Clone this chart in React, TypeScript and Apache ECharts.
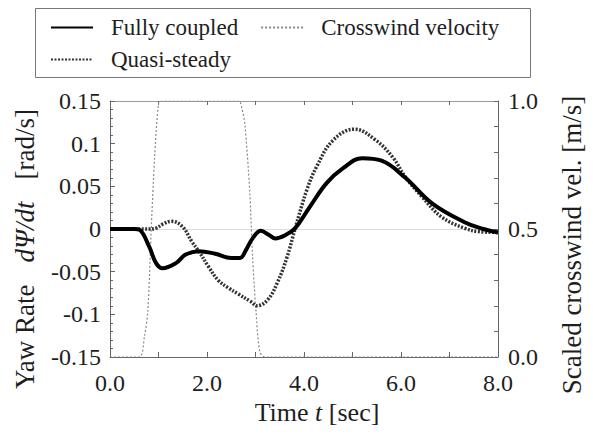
import React, { useEffect, useRef } from 'react';
import * as echarts from 'echarts';

// Time [sec] and yaw rate [rad/s] for the fully coupled simulation
const fullyT = [0, 0.5, 0.61, 0.81, 0.95, 1.08, 1.36, 1.56, 1.83, 2.17, 2.5, 2.68, 2.8, 2.94, 3.11, 3.28, 3.41, 3.62, 3.82, 4.12, 4.47, 4.8, 5.2, 5.6, 6.09, 6.64, 7.31, 7.7, 8.0];
const fullyV = [0, 0, -0.001, -0.021, -0.04, -0.046, -0.04, -0.03, -0.026, -0.029, -0.034, -0.034, -0.025, -0.011, -0.002, -0.007, -0.011, -0.007, 0.001, 0.026, 0.054, 0.071, 0.083, 0.08, 0.06, 0.03, 0.008, 0.0, -0.004];

// Quasi-steady model
const quasiT = [0, 0.8, 0.95, 1.1, 1.26, 1.49, 1.69, 1.83, 2.03, 2.23, 2.44, 2.64, 2.9, 3.03, 3.25, 3.45, 3.65, 3.82, 4.06, 4.26, 4.6, 5.04, 5.48, 5.83, 6.09, 6.43, 6.84, 7.31, 7.6, 8.0];
const quasiV = [0, 0, 0.001, 0.006, 0.009, 0.003, -0.015, -0.026, -0.044, -0.06, -0.069, -0.076, -0.085, -0.09, -0.083, -0.063, -0.033, 0.001, 0.046, 0.073, 0.104, 0.117, 0.104, 0.084, 0.061, 0.038, 0.014, 0.001, -0.003, -0.004];

// Scaled crosswind velocity [m/s] (right axis)
const windT = [0, 0.6, 0.71, 0.78, 0.85, 0.92, 1.0, 1.05, 2.65, 2.72, 2.78, 2.88, 2.94, 3.01, 3.09, 3.2, 8.0];
const windV = [0, 0, 0.08, 0.18, 0.5, 0.78, 0.99, 1.0, 1.0, 0.97, 0.91, 0.65, 0.39, 0.18, 0.02, 0, 0];

const FONT = 'Liberation Serif';
const TXT = '#1e1e1e';
const AX = '#666';

const pairs = (t: number[], v: number[]) => t.map((x, i) => [x, v[i]]);
const serif = (size: number, italic = false) => ({
  fontFamily: FONT,
  fontSize: size,
  color: TXT,
  fontStyle: italic ? 'italic' : 'normal',
});

export default function App() {
  const ref = useRef<HTMLDivElement>(null);
  useEffect(() => {
    const chart = echarts.init(ref.current!, null, { renderer: 'svg' });
    const legendBase = {
      left: 50,
      itemWidth: 42,
      itemHeight: 14,
      itemGap: 22,
      padding: 0,
      selectedMode: false,
      itemStyle: { opacity: 0 },
      formatter: (name: string) => `{s|}{a|${name}}`,
      textStyle: {
        ...serif(23),
        rich: { s: { width: 13 }, a: serif(23) },
      },
    };
    chart.setOption({
      animation: false,
      backgroundColor: '#fff',
      textStyle: { fontFamily: FONT },
      grid: { left: 110, right: 89, top: 101, bottom: 79 },
      legend: [
        { ...legendBase, top: 16, data: ['Fully coupled', 'Crosswind velocity'] },
        { ...legendBase, top: 48, data: ['Quasi-steady'] },
      ],
      graphic: [
        {
          type: 'rect',
          shape: { x: 35.5, y: 8.5, width: 495, height: 69 },
          style: { fill: 'none', stroke: '#777', lineWidth: 1 },
        },
      ],
      xAxis: [
        {
          type: 'value',
          min: 0,
          max: 8,
          interval: 1,
          name: '{p|}{n|Time }{i|t}{n| [sec]}',
          nameLocation: 'middle',
          nameGap: 42,
          nameTextStyle: { rich: { p: { width: 26 }, n: serif(26), i: serif(26, true) } },
          axisLine: { show: true, onZero: false, lineStyle: { color: AX, width: 1 } },
          axisTick: { show: true, inside: true, length: 5, lineStyle: { color: AX } },
          splitLine: { show: false },
          axisLabel: {
            margin: 14,
            showMaxLabel: true,
            showMinLabel: true,
            rich: { a: serif(24) },
            formatter: (v: number) => (Math.round(v) % 2 === 0 ? `{a|${v.toFixed(1)}}` : ''),
          },
        },
        {
          type: 'value',
          position: 'top',
          min: 0,
          max: 8,
          interval: 1,
          axisLine: { show: true, onZero: false, lineStyle: { color: '#999', width: 1 } },
          axisTick: { show: true, inside: true, length: 4, lineStyle: { color: AX } },
          axisLabel: { show: false },
          splitLine: { show: false },
        },
      ],
      yAxis: [
        {
          type: 'value',
          min: -0.15,
          max: 0.15,
          interval: 0.05,
          name: '{n|Yaw Rate}{g|}{i|dΨ/dt}{g|}{n|[rad/s]}{e|}',
          nameLocation: 'middle',
          nameRotate: 90,
          nameGap: 72,
          nameTextStyle: {
            rich: { n: serif(27), i: serif(27, true), g: { width: 22 }, e: { width: 40 } },
          },
          axisLine: { show: true, onZero: false, lineStyle: { color: AX, width: 1 } },
          axisTick: { show: true, inside: true, length: 5, lineStyle: { color: AX } },
          minorTick: { show: true, splitNumber: 5, length: 3, lineStyle: { color: AX } },
          splitLine: { show: false },
          axisLabel: {
            margin: 9,
            rich: { a: serif(24) },
            formatter: (v: number) => `{a|${String(parseFloat(v.toFixed(2)))}}`,
          },
        },
        {
          type: 'value',
          min: 0,
          max: 1,
          interval: 0.5,
          position: 'right',
          name: '{n|Scaled crosswind vel. [m/s]}{e|}',
          nameLocation: 'middle',
          nameRotate: 90,
          nameGap: 60,
          nameTextStyle: { rich: { n: serif(27), e: { width: 32 } } },
          axisLine: { show: true, onZero: false, lineStyle: { color: AX, width: 1 } },
          axisTick: { show: true, inside: true, length: 4, lineStyle: { color: AX } },
          minorTick: { show: true, splitNumber: 5, length: 4, lineStyle: { color: AX } },
          splitLine: { show: false },
          axisLabel: {
            margin: 10,
            rich: { a: serif(24) },
            formatter: (v: number) => `{a|${v.toFixed(1)}}`,
          },
        },
      ],
      series: [
        {
          name: 'Crosswind velocity',
          type: 'line',
          yAxisIndex: 1,
          symbol: 'none',
          smooth: 0.3,
          z: 1,
          lineStyle: { color: '#8a8a8a', width: 1.2, type: [2, 2] },
          itemStyle: { color: '#8a8a8a' },
          data: pairs(windT, windV),
        },
        {
          name: 'Quasi-steady',
          type: 'line',
          symbol: 'none',
          smooth: 0.4,
          z: 2,
          lineStyle: { color: '#333', width: 3.5, type: [2, 1.5] },
          itemStyle: { color: '#333' },
          data: pairs(quasiT, quasiV),
        },
        {
          name: 'Fully coupled',
          type: 'line',
          symbol: 'none',
          smooth: 0.4,
          z: 3,
          lineStyle: { color: '#000', width: 4 },
          itemStyle: { color: '#000' },
          data: pairs(fullyT, fullyV),
          markLine: {
            silent: true,
            symbol: ['none', 'none'],
            label: { show: false },
            lineStyle: { color: '#dcdcdc', type: 'solid', width: 1 },
            z: 0,
            data: [{ yAxis: 0 }],
          },
        },
      ],
    });
    return () => chart.dispose();
  }, []);
  return (
    <div
      ref={ref}
      style={{ width: 593, height: 436, position: 'absolute', left: 0, top: 0 }}
    />
  );
}
